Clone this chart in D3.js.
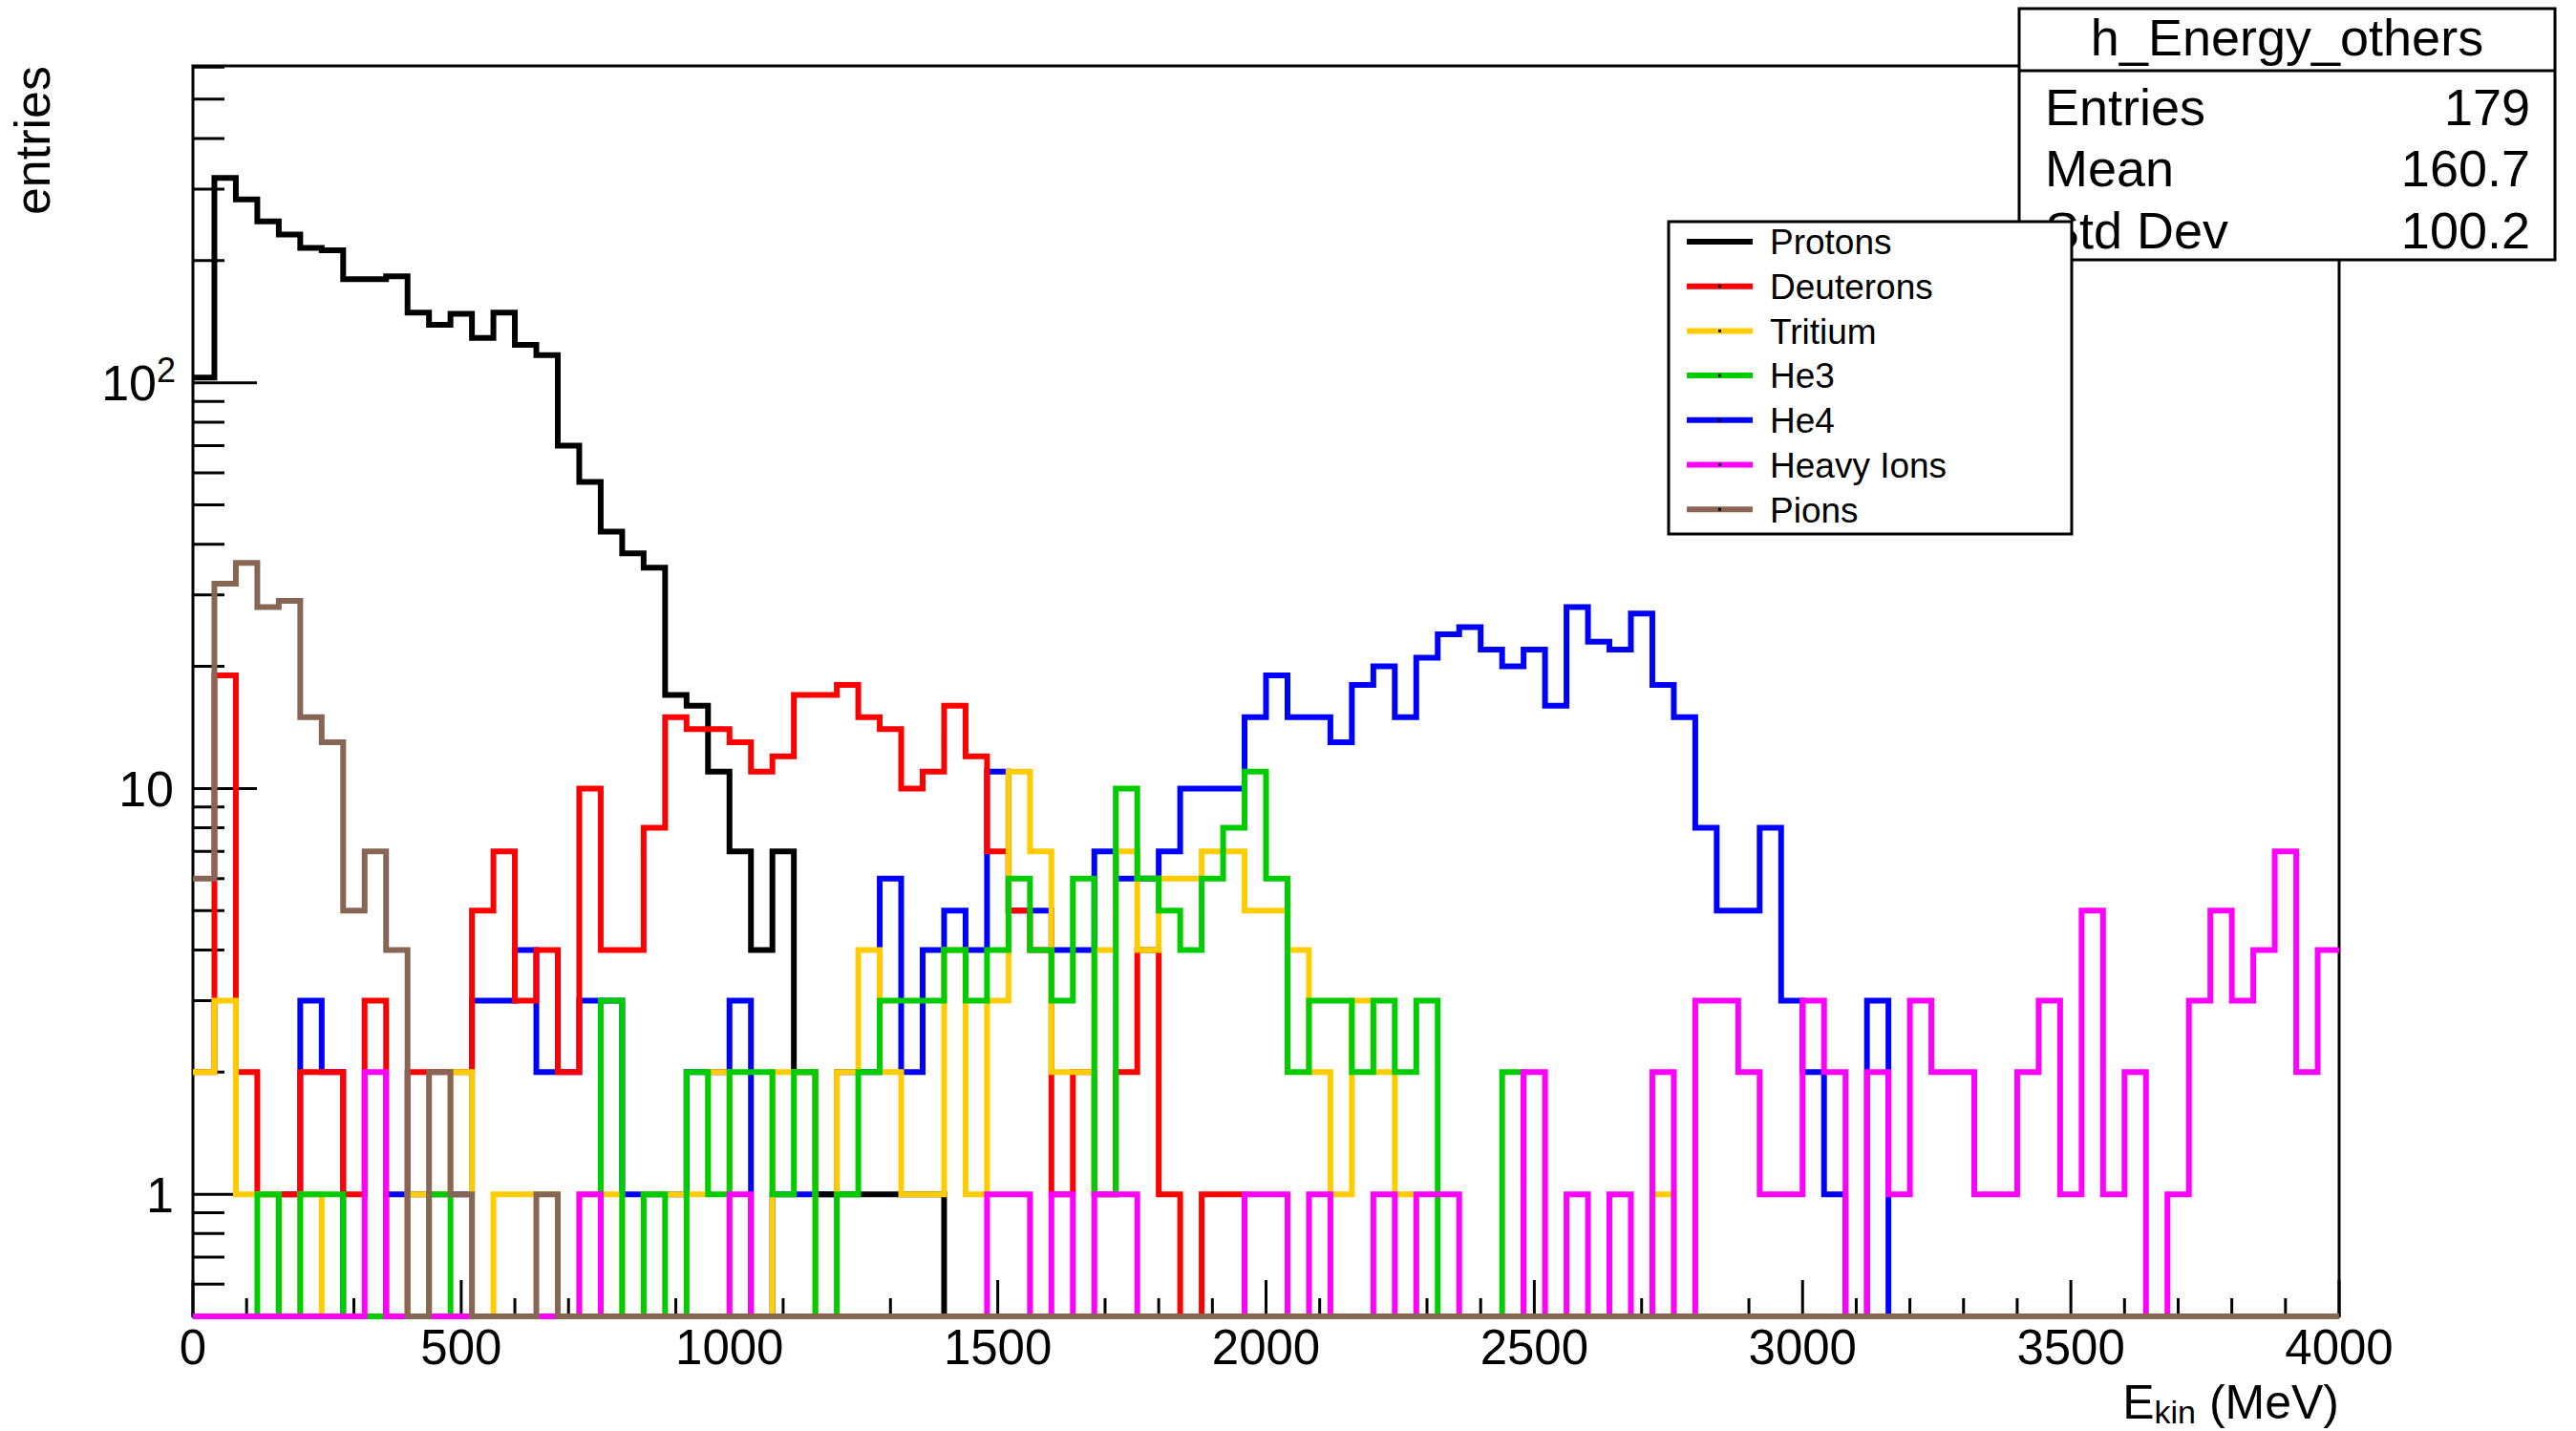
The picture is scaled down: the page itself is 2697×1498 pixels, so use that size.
<!DOCTYPE html>
<html>
<head>
<meta charset="utf-8">
<script src="https://cdn.jsdelivr.net/npm/d3@7"></script>
<style>
  body { margin: 0; background: #fff; }
  svg { display: block; }
  text { font-family: "Liberation Sans", Arial, Helvetica, sans-serif; fill: #000; }
</style>
</head>
<body>
<svg id="chart" width="2697" height="1498"></svg>
<script>
// 100 bins of 40 MeV from 0 to 4000 MeV
const binWidth = 40;
const xTicks = [0, 500, 1000, 1500, 2000, 2500, 3000, 3500, 4000];

const protons = [103,320,283,250,232,215,212,180,180,183, 149,139,148,129,149,124,117,70,57,43,
  38,35,17,16,11,7,4,7,2,1, 1,1,1,1,1,0,0,0,0,0,
  0,0,0,0,0,0,0,0,0,0, 0,0,0,0,0,0,0,0,0,0, 0,0,0,0,0,0,0,0,0,0,
  0,0,0,0,0,0,0,0,0,0, 0,0,0,0,0,0,0,0,0,0, 0,0,0,0,0,0,0,0,0,0];
const deuterons = [2,19,2,1,1,2,2,1,3,0, 2,2,2,5,7,3,4,2,10,4,
  4,8,15,14,14,13,11,12,17,17, 18,15,14,10,11,16,12,7,5,4,
  1,2,1,2,4,1,0,1,1,0, 0,0,0,0,0,0,0,0,0,0, 0,0,0,0,0,0,0,0,0,0,
  0,0,0,0,0,0,0,0,0,0, 0,0,0,0,0,0,0,0,0,0, 0,0,0,0,0,0,0,0,0,0];
const tritium = [2,3,1,1,0,1,0,0,0,0, 1,1,2,0,1,1,1,0,1,1,
  0,1,1,1,2,0,0,2,2,0, 2,4,2,1,1,4,1,3,11,7,
  2,2,4,7,4,6,6,7,7,5, 5,4,2,1,3,2,1,0,0,0, 0,0,0,0,0,0,0,0,1,0,
  0,0,0,0,0,0,0,0,0,0, 0,0,0,0,0,0,0,0,0,0, 0,0,0,0,0,0,0,0,0,0];
const he3 = [0,0,0,1,0,1,1,0,0,0, 0,1,0,0,0,0,0,0,0,3,
  0,1,0,2,1,2,2,1,2,0, 1,2,3,3,3,4,3,4,6,4,
  3,6,1,10,6,5,4,6,8,11, 6,2,3,3,2,3,2,3,0,0, 0,2,0,0,0,0,0,0,0,0,
  0,0,0,0,0,0,0,0,0,0, 0,0,0,0,0,0,0,0,0,0, 0,0,0,0,0,0,0,0,0,0];
const he4 = [0,0,0,0,1,3,2,0,0,1, 1,1,1,3,3,4,2,2,3,3,
  1,1,1,2,2,3,0,1,1,1, 2,2,6,2,4,5,4,11,5,5,
  4,4,7,6,6,7,10,10,10,15, 19,15,15,13,18,20,15,21,24,25,
  22,20,22,16,28,23,22,27,18,15, 8,5,5,8,3,2,1,0,3,0,
  0,0,0,0,0,0,0,0,0,0, 0,0,0,0,0,0,0,0,0,0];
const heavyIons = [0,0,0,0,0,0,0,0,2,0, 0,0,0,0,0,0,0,0,1,0,
  0,0,0,0,0,1,0,0,0,0, 0,0,0,0,0,0,0,1,1,0,
  1,0,1,1,0,0,0,0,0,1, 1,0,1,0,0,1,0,1,1,0, 0,0,2,0,1,0,1,0,2,0,
  3,3,2,1,1,3,2,0,2,1, 3,2,2,1,1,2,3,1,5,1, 2,0,1,3,5,3,4,7,2,4];
const pions = [6,32,36,28,29,15,13,5,7,4, 0,2,1,0,0,0,1,0,0,0,
  0,0,0,0,0,0,0,0,0,0, 0,0,0,0,0,0,0,0,0,0,
  0,0,0,0,0,0,0,0,0,0, 0,0,0,0,0,0,0,0,0,0, 0,0,0,0,0,0,0,0,0,0,
  0,0,0,0,0,0,0,0,0,0, 0,0,0,0,0,0,0,0,0,0, 0,0,0,0,0,0,0,0,0,0];

const legendNames = ['Protons', 'Deuterons', 'Tritium', 'He3', 'He4', 'Heavy Ions', 'Pions'];
const legendColors = ['#000000', '#ff0000', '#ffcc00', '#00cc00', '#0000ff', '#ff00ff', '#876656'];
const seriesData = [protons, deuterons, tritium, he3, he4, heavyIons, pions];
// drawing order seen in the picture (He4 underneath, pions on top)
const drawOrder = [4, 0, 1, 2, 3, 5, 6];

const statsLabels = ['Entries', 'Mean', 'Std Dev'];
const statsValues = ['179', '160.7', '100.2'];

const svg = d3.select('#chart');
const frame = { left: 202, right: 2449, top: 69, bottom: 1378 };

const x = d3.scaleLinear().domain([0, 4000]).range([frame.left, frame.right]);
const y = d3.scaleLog().domain([0.5, 604]).range([frame.bottom, frame.top]);

// frame
svg.append('rect')
  .attr('x', frame.left).attr('y', frame.top)
  .attr('width', frame.right - frame.left).attr('height', frame.bottom - frame.top)
  .attr('fill', 'none').attr('stroke', '#000').attr('stroke-width', 3);

// x ticks: major every 500, minor every 100
const xMinor = d3.range(0, 4001, 100);
svg.append('g').selectAll('line').data(xMinor).join('line')
  .attr('x1', d => x(d)).attr('x2', d => x(d))
  .attr('y1', frame.bottom)
  .attr('y2', d => frame.bottom - (d % 500 === 0 ? 38 : 19))
  .attr('stroke', '#000').attr('stroke-width', 3);

svg.append('g').selectAll('text').data(xTicks).join('text')
  .attr('x', d => x(d)).attr('y', 1428)
  .attr('text-anchor', 'middle')
  .style('font-size', '51px')
  .text(d => d);

// y ticks, log scale
const yMinor = [];
[0.1, 1, 10, 100].forEach(dec => {
  for (let k = 1; k < 10; k++) {
    const v = dec * k;
    if (v >= 0.5 && v <= 604) yMinor.push(v);
  }
});
svg.append('g').selectAll('line').data(yMinor).join('line')
  .attr('x1', frame.left)
  .attr('x2', d => frame.left + ([1, 10, 100].includes(d) ? 67 : 33))
  .attr('y1', d => y(d)).attr('y2', d => y(d))
  .attr('stroke', '#000').attr('stroke-width', 3);

const yLab = svg.append('g').style('font-size', '52px').attr('text-anchor', 'end');
yLab.append('text').attr('x', 182).attr('y', y(1)).attr('dy', '0.36em').text('1');
yLab.append('text').attr('x', 182).attr('y', y(10)).attr('dy', '0.36em').text('10');
const t100 = yLab.append('text').attr('x', 184).attr('y', y(100)).attr('dy', '0.36em');
t100.append('tspan').text('10');
t100.append('tspan').attr('dy', '-0.55em').style('font-size', '36px').text('2');

// axis titles
const xt = svg.append('text')
  .attr('x', frame.right).attr('y', 1485)
  .attr('text-anchor', 'end')
  .style('font-size', '50px');
xt.append('tspan').text('E');
xt.append('tspan').attr('dy', '0.15em').style('font-size', '34px').text('kin');
xt.append('tspan').attr('dy', '-0.1em').text(' (MeV)');

svg.append('text')
  .attr('transform', `translate(52,${frame.top}) rotate(-90)`)
  .attr('text-anchor', 'end')
  .style('font-size', '52px')
  .text('entries');

// histograms
function histPath(vals) {
  const yv = v => v > 0 ? y(v) : frame.bottom;
  let d = `M${x(0)},${yv(vals[0])}`;
  vals.forEach((v, i) => {
    d += `H${x((i + 1) * binWidth)}`;
    if (i < vals.length - 1) d += `V${yv(vals[i + 1])}`;
  });
  return d;
}

svg.append('g').selectAll('path').data(drawOrder).join('path')
  .attr('d', k => histPath(seriesData[k]))
  .attr('fill', 'none')
  .attr('stroke', k => legendColors[k])
  .attr('stroke-width', 6)
  .attr('stroke-linejoin', 'miter');

// stats box
const sb = { x: 2114, y: 9, w: 561, h: 263 };
const stats = svg.append('g');
stats.append('rect')
  .attr('x', sb.x).attr('y', sb.y).attr('width', sb.w).attr('height', sb.h)
  .attr('fill', '#fff').attr('stroke', '#000').attr('stroke-width', 3);
stats.append('line')
  .attr('x1', sb.x).attr('x2', sb.x + sb.w).attr('y1', 74).attr('y2', 74)
  .attr('stroke', '#000').attr('stroke-width', 3);
stats.append('text')
  .attr('x', sb.x + sb.w / 2).attr('y', 58)
  .attr('text-anchor', 'middle').style('font-size', '54px')
  .text('h_Energy_others');
const rowY = [131, 195, 260];
stats.selectAll('text.lab').data(statsLabels).join('text')
  .attr('class', 'lab')
  .attr('x', 2141).attr('y', (d, i) => rowY[i])
  .style('font-size', '54px').text(d => d);
stats.selectAll('text.val').data(statsValues).join('text')
  .attr('class', 'val')
  .attr('x', 2649).attr('y', (d, i) => rowY[i])
  .attr('text-anchor', 'end')
  .style('font-size', '54px').text(d => d);

// legend
const lg = { x: 1747, y: 232, w: 422, h: 327 };
const legend = svg.append('g');
legend.append('rect')
  .attr('x', lg.x).attr('y', lg.y).attr('width', lg.w).attr('height', lg.h)
  .attr('fill', '#fff').attr('stroke', '#000').attr('stroke-width', 3);
const entries = legend.selectAll('g.entry').data(legendNames).join('g')
  .attr('class', 'entry')
  .attr('transform', (d, i) => `translate(0,${253 + i * 46.7})`);
entries.append('line')
  .attr('x1', 1766).attr('x2', 1835).attr('y1', 0).attr('y2', 0)
  .attr('stroke', (d, i) => legendColors[i]).attr('stroke-width', 6);
entries.append('rect')
  .attr('x', 1799).attr('y', -1.5).attr('width', 3).attr('height', 3)
  .attr('fill', '#000');
entries.append('text')
  .attr('x', 1853).attr('y', 0).attr('dy', '0.36em')
  .style('font-size', '37px')
  .text(d => d);
</script>
</body>
</html>
